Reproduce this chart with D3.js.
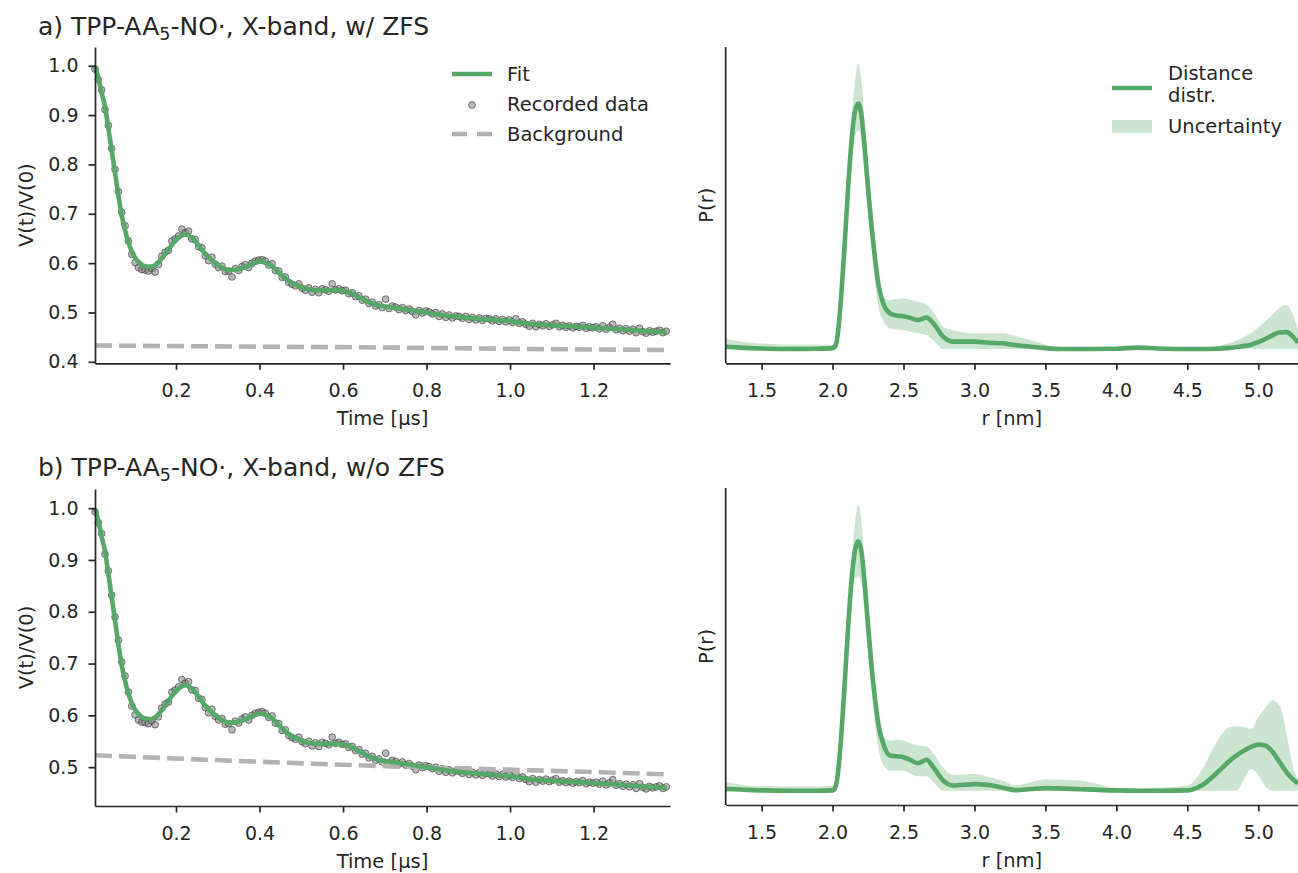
<!DOCTYPE html>
<html>
<head>
<meta charset="utf-8">
<script src="https://cdn.jsdelivr.net/npm/d3@7"></script>
<style>
  body { margin: 0; background: #fff; }
  svg { display: block; font-family: "DejaVu Sans", sans-serif; }
  .axis path, .axis line { stroke: #262626; stroke-width: 1.7; }
  .axis text { fill: #262626; font-size: 19px; font-family: "DejaVu Sans", sans-serif; }
</style>
</head>
<body>
<svg id="chart" width="1298" height="873"></svg>
<script>
// --- time-domain data (shared by both panels) ---
const recStart = 0.006, recStep = 0.008;

const recorded = [
  0.993, 0.972, 0.951, 0.911, 0.879, 0.832, 0.790, 0.745, 0.703, 0.676,
  0.645, 0.618, 0.601, 0.591, 0.587, 0.586, 0.584, 0.589, 0.582, 0.597,
  0.614, 0.622, 0.626, 0.645, 0.649, 0.655, 0.669, 0.662, 0.665, 0.649,
  0.648, 0.633, 0.631, 0.615, 0.605, 0.612, 0.598, 0.591, 0.594, 0.583,
  0.584, 0.572, 0.589, 0.585, 0.593, 0.597, 0.591, 0.600, 0.604, 0.606,
  0.607, 0.604, 0.596, 0.599, 0.585, 0.584, 0.571, 0.572, 0.561, 0.557,
  0.554, 0.558, 0.549, 0.545, 0.550, 0.541, 0.547, 0.540, 0.548, 0.546,
  0.543, 0.558, 0.546, 0.548, 0.544, 0.545, 0.538, 0.540, 0.532, 0.534,
  0.525, 0.527, 0.518, 0.521, 0.513, 0.516, 0.510, 0.527, 0.508, 0.513,
  0.511, 0.506, 0.510, 0.504, 0.507, 0.502, 0.495, 0.504, 0.499, 0.503,
  0.501, 0.497, 0.500, 0.492, 0.497, 0.490, 0.495, 0.489, 0.493, 0.492,
  0.488, 0.492, 0.486, 0.490, 0.485, 0.489, 0.484, 0.488, 0.487, 0.483,
  0.487, 0.482, 0.486, 0.481, 0.485, 0.480, 0.487, 0.478, 0.481, 0.476,
  0.472, 0.478, 0.471, 0.476, 0.473, 0.477, 0.472, 0.475, 0.478, 0.471,
  0.474, 0.470, 0.473, 0.469, 0.472, 0.470, 0.474, 0.468, 0.471, 0.469,
  0.471, 0.467, 0.473, 0.466, 0.470, 0.476, 0.465, 0.468, 0.463, 0.467,
  0.462, 0.466, 0.459, 0.468, 0.461, 0.458, 0.463, 0.460, 0.462, 0.464,
  0.459, 0.462
];

const fitValues = [
  0.998, 0.975, 0.945, 0.917, 0.873, 0.828, 0.783, 0.737, 0.697, 0.667,
  0.642, 0.624, 0.611, 0.603, 0.597, 0.594, 0.593, 0.593, 0.596, 0.602,
  0.610, 0.619, 0.628, 0.637, 0.645, 0.652, 0.656, 0.658, 0.656, 0.652,
  0.644, 0.636, 0.627, 0.619, 0.612, 0.606, 0.600, 0.595, 0.591, 0.588,
  0.586, 0.586, 0.586, 0.588, 0.590, 0.592, 0.595, 0.598, 0.601, 0.603,
  0.603, 0.601, 0.598, 0.594, 0.588, 0.581, 0.575, 0.569, 0.564, 0.560,
  0.557, 0.554, 0.551, 0.549, 0.547, 0.546, 0.545, 0.545, 0.545, 0.545,
  0.545, 0.545, 0.545, 0.545, 0.544, 0.543, 0.541, 0.538, 0.535, 0.531,
  0.528, 0.524, 0.521, 0.518, 0.516, 0.514, 0.513, 0.512, 0.511, 0.510,
  0.509, 0.508, 0.507, 0.506, 0.505, 0.504, 0.503, 0.502, 0.501, 0.500,
  0.499, 0.498, 0.497, 0.496, 0.495, 0.494, 0.493, 0.492, 0.492, 0.491,
  0.490, 0.490, 0.489, 0.488, 0.488, 0.487, 0.487, 0.486, 0.486, 0.485,
  0.485, 0.484, 0.484, 0.483, 0.483, 0.482, 0.481, 0.480, 0.479, 0.478,
  0.477, 0.476, 0.476, 0.475, 0.475, 0.474, 0.474, 0.474, 0.473, 0.473,
  0.473, 0.472, 0.472, 0.472, 0.471, 0.471, 0.471, 0.470, 0.470, 0.470,
  0.469, 0.469, 0.468, 0.468, 0.467, 0.467, 0.467, 0.466, 0.466, 0.465,
  0.465, 0.464, 0.464, 0.463, 0.463, 0.462, 0.462, 0.462, 0.461, 0.461,
  0.461, 0.460
];

const bgTimes = [0.006, 0.35, 0.7, 1.05, 1.383];
const bgA = [0.433, 0.431, 0.429, 0.426, 0.424];
const bgB = [0.523, 0.512, 0.502, 0.494, 0.486];

const timeTicks = [0.2, 0.4, 0.6, 0.8, 1.0, 1.2];
const vTicksA = [0.4, 0.5, 0.6, 0.7, 0.8, 0.9, 1.0];
const vTicksB = [0.5, 0.6, 0.7, 0.8, 0.9, 1.0];

// --- distance distributions ---
const rGrid = [1.25, 1.35, 1.5, 1.7, 1.9, 2.0, 2.02, 2.04, 2.064, 2.087, 2.11, 2.134, 2.157, 2.181,
  2.205, 2.228, 2.251, 2.275, 2.298, 2.322, 2.357, 2.404, 2.45, 2.5, 2.55, 2.6, 2.663, 2.71, 2.78,
  2.85, 3.0, 3.1, 3.2, 3.3, 3.4, 3.5, 3.6, 3.75, 4.0, 4.15, 4.3, 4.5, 4.6, 4.7, 4.8, 4.85, 4.9,
  4.95, 5.0, 5.05, 5.1, 5.15, 5.2, 5.24, 5.28];

const meanA = [0.008, 0.005, 0.002, 0.0, 0.001, 0.003, 0.01, 0.066, 0.206, 0.38, 0.567, 0.73, 0.83, 0.859,
  0.812, 0.696, 0.556, 0.428, 0.323, 0.23, 0.16, 0.125, 0.117, 0.115, 0.109, 0.101, 0.11, 0.09, 0.043,
  0.026, 0.026, 0.022, 0.02, 0.013, 0.008, 0.003, 0.0, 0.0, 0.001, 0.005, 0.002, 0.0, 0.0, 0.001, 0.004,
  0.007, 0.011, 0.015, 0.024, 0.035, 0.048, 0.058, 0.059, 0.046, 0.022];
const upperA = [0.037, 0.026, 0.019, 0.015, 0.015, 0.015, 0.03, 0.078, 0.23, 0.4, 0.62, 0.8, 0.93, 0.999,
  0.93, 0.78, 0.64, 0.5, 0.38, 0.27, 0.18, 0.171, 0.175, 0.177, 0.172, 0.165, 0.156, 0.13, 0.078,
  0.066, 0.055, 0.055, 0.055, 0.045, 0.031, 0.015, 0.004, 0.003, 0.004, 0.007, 0.004, 0.003, 0.005, 0.01, 0.022,
  0.03, 0.042, 0.056, 0.075, 0.097, 0.12, 0.145, 0.154, 0.125, 0.066];
const lowerA = [0, 0, 0, 0, 0, 0, 0, 0.04, 0.15, 0.3, 0.48, 0.65, 0.74, 0.765,
  0.72, 0.6, 0.47, 0.35, 0.24, 0.15, 0.1, 0.072, 0.068, 0.066, 0.06, 0.055, 0.049, 0.031, 0,
  0, 0, 0, 0, 0, 0, 0, 0, 0, 0, 0, 0, 0, 0, 0, 0,
  0, 0, 0, 0, 0, 0, 0, 0, 0, 0];

const meanB = [0.006, 0.004, 0.001, 0.0, 0.0, 0.001, 0.012, 0.07, 0.21, 0.386, 0.573, 0.737, 0.836, 0.871,
  0.83, 0.713, 0.573, 0.433, 0.327, 0.234, 0.164, 0.123, 0.12, 0.117, 0.107, 0.096, 0.108, 0.082, 0.035,
  0.018, 0.023, 0.02, 0.01, 0.002, 0.006, 0.009, 0.008, 0.005, 0.001, 0.0, 0.0, 0.001, 0.018, 0.058, 0.105,
  0.124, 0.14, 0.153, 0.161, 0.158, 0.136, 0.1, 0.064, 0.042, 0.025];
const upperB = [0.03, 0.022, 0.016, 0.015, 0.015, 0.016, 0.03, 0.08, 0.23, 0.4, 0.62, 0.8, 0.93, 1.0,
  0.93, 0.78, 0.64, 0.5, 0.38, 0.27, 0.19, 0.175, 0.178, 0.175, 0.166, 0.158, 0.155, 0.13, 0.08,
  0.055, 0.058, 0.048, 0.035, 0.018, 0.03, 0.04, 0.038, 0.035, 0.01, 0.008, 0.01, 0.018, 0.07, 0.164, 0.222,
  0.225, 0.222, 0.216, 0.257, 0.29, 0.316, 0.298, 0.199, 0.094, 0.04];
const lowerB = [0, 0, 0, 0, 0, 0, 0, 0.045, 0.15, 0.3, 0.48, 0.65, 0.74, 0.748,
  0.72, 0.6, 0.47, 0.35, 0.24, 0.15, 0.09, 0.07, 0.07, 0.07, 0.06, 0.05, 0.05, 0.03, 0,
  0, 0, 0, 0, 0, 0, 0, 0, 0, 0, 0, 0, 0, 0, 0, 0,
  0, 0.04, 0.076, 0.055, 0.015, 0, 0, 0, 0, 0];

const rTicks = [1.5, 2.0, 2.5, 3.0, 3.5, 4.0, 4.5, 5.0];

// --- styling ---
const GREEN = "#55a868";
const INK = "#262626";
const LW = 4.6;
const svg = d3.select("#chart");

function addTitle(x, y, prefix, suffix) {
  const t = svg.append("text").attr("x", x).attr("y", y)
    .attr("fill", INK).style("font-size", "25px");
  t.append("tspan").text(prefix + "TPP-AA");
  t.append("tspan").attr("dy", 5).style("font-size", "17.5px").text("5");
  t.append("tspan").attr("dy", -5).text("-NO·, X-band, " + suffix);
}

function drawTime(box, bgVals, yDomain, yTicks, withLegend) {
  const x = d3.scaleLinear().domain([0.006, 1.383]).range([box.x0, box.x1]);
  const y = d3.scaleLinear().domain(yDomain).range([box.y1, box.y0]);

  const recData = recorded.map((v, i) => [recStart + i * recStep, v]);
  const fitData = fitValues.map((v, i) => [recStart + i * recStep, v]);
  const bgData = bgTimes.map((t, i) => [t, bgVals[i]]);

  svg.append("g").selectAll("circle").data(recData).join("circle")
    .attr("cx", d => x(d[0])).attr("cy", d => y(d[1])).attr("r", 3.4)
    .attr("fill", "#808080").attr("fill-opacity", 0.55)
    .attr("stroke", "#262626").attr("stroke-opacity", 0.55).attr("stroke-width", 1);

  const line = d3.line().x(d => x(d[0])).y(d => y(d[1])).curve(d3.curveMonotoneX);

  svg.append("path").datum(bgData).attr("d", line)
    .attr("fill", "none").attr("stroke", "#b3b3b3").attr("stroke-width", LW)
    .attr("stroke-dasharray", "17,7");

  svg.append("path").datum(fitData).attr("d", line)
    .attr("fill", "none").attr("stroke", GREEN).attr("stroke-width", LW)
    .attr("stroke-linejoin", "round");

  svg.append("g").attr("class", "axis")
    .attr("transform", `translate(0,${box.y1})`)
    .call(d3.axisBottom(x).tickValues(timeTicks).tickFormat(d3.format(".1f"))
      .tickSize(6.5).tickSizeOuter(0).tickPadding(14));

  svg.append("g").attr("class", "axis")
    .attr("transform", `translate(${box.x0},0)`)
    .call(d3.axisLeft(y).tickValues(yTicks).tickFormat(d3.format(".1f"))
      .tickSize(6.5).tickSizeOuter(0).tickPadding(10));

  svg.append("text").attr("x", (box.x0 + box.x1) / 2).attr("y", box.y1 + 62)
    .attr("text-anchor", "middle").attr("fill", INK).style("font-size", "19.5px")
    .text("Time [μs]");

  svg.append("text")
    .attr("transform", `translate(${box.x0 - 62},${(box.y0 + box.y1) / 2}) rotate(-90)`)
    .attr("text-anchor", "middle").attr("fill", INK).style("font-size", "19.5px")
    .text("V(t)/V(0)");

  if (withLegend) {
    const lg = svg.append("g").attr("transform", `translate(452,${box.y0 + 27})`);
    lg.append("line").attr("x1", 0).attr("x2", 40).attr("y1", 0).attr("y2", 0)
      .attr("stroke", GREEN).attr("stroke-width", LW);
    lg.append("circle").attr("cx", 20).attr("cy", 31).attr("r", 3.4)
      .attr("fill", "#808080").attr("fill-opacity", 0.55)
      .attr("stroke", "#262626").attr("stroke-opacity", 0.55);
    lg.append("line").attr("x1", 0).attr("x2", 40).attr("y1", 60).attr("y2", 60)
      .attr("stroke", "#b3b3b3").attr("stroke-width", LW).attr("stroke-dasharray", "15,10");
    ["Fit", "Recorded data", "Background"].forEach((s, i) => {
      lg.append("text").attr("x", 55).attr("y", i * 30 + 7)
        .attr("fill", INK).style("font-size", "19.5px").text(s);
    });
  }
}

function drawDist(box, mean, lower, upper, withLegend) {
  const x = d3.scaleLinear().domain([1.247, 5.28]).range([box.x0, box.x1]);
  const y = d3.scaleLinear().domain([-0.05, 1.057]).range([box.y1, box.y0]);
  const id = "clip" + Math.round(box.y0);

  svg.append("clipPath").attr("id", id).append("rect")
    .attr("x", box.x0).attr("y", box.y0).attr("width", box.x1 - box.x0).attr("height", box.y1 - box.y0);

  const g = svg.append("g").attr("clip-path", `url(#${id})`);
  const rows = rGrid.map((r, i) => ({ r, m: mean[i], lo: lower[i], hi: upper[i] }));

  g.append("path").datum(rows)
    .attr("d", d3.area().x(d => x(d.r)).y0(d => y(d.lo)).y1(d => y(d.hi)).curve(d3.curveMonotoneX))
    .attr("fill", GREEN).attr("fill-opacity", 0.3);

  g.append("path").datum(rows)
    .attr("d", d3.line().x(d => x(d.r)).y(d => y(d.m)).curve(d3.curveMonotoneX))
    .attr("fill", "none").attr("stroke", GREEN).attr("stroke-width", LW)
    .attr("stroke-linejoin", "round");

  svg.append("g").attr("class", "axis")
    .attr("transform", `translate(0,${box.y1})`)
    .call(d3.axisBottom(x).tickValues(rTicks).tickFormat(d3.format(".1f"))
      .tickSize(6.5).tickSizeOuter(0).tickPadding(14));

  svg.append("line").attr("x1", box.x0).attr("x2", box.x0).attr("y1", box.y0).attr("y2", box.y1)
    .attr("stroke", INK).attr("stroke-width", 1.7);

  svg.append("text").attr("x", (box.x0 + box.x1) / 2).attr("y", box.y1 + 62)
    .attr("text-anchor", "middle").attr("fill", INK).style("font-size", "19.5px")
    .text("r [nm]");

  svg.append("text")
    .attr("transform", `translate(${box.x0 - 13},${(box.y0 + box.y1) / 2}) rotate(-90)`)
    .attr("text-anchor", "middle").attr("fill", INK).style("font-size", "19.5px")
    .text("P(r)");

  if (withLegend) {
    const lg = svg.append("g").attr("transform", `translate(1112,${box.y0})`);
    lg.append("line").attr("x1", 0).attr("x2", 40).attr("y1", 41).attr("y2", 41)
      .attr("stroke", GREEN).attr("stroke-width", LW);
    lg.append("rect").attr("x", 0).attr("y", 73).attr("width", 40).attr("height", 13)
      .attr("fill", GREEN).attr("fill-opacity", 0.3);
    [["Distance", 33], ["distr.", 55], ["Uncertainty", 86]].forEach(([s, yy]) => {
      lg.append("text").attr("x", 56).attr("y", yy)
        .attr("fill", INK).style("font-size", "19.5px").text(s);
    });
  }
}

addTitle(38, 35, "a) ", "w/ ZFS");
addTitle(38, 476, "b) ", "w/o ZFS");

drawTime({ x0: 95, x1: 670, y0: 47, y1: 363.3 }, bgA, [0.397, 1.038], vTicksA, true);
drawTime({ x0: 95, x1: 670, y0: 489, y1: 806 }, bgB, [0.425, 1.037], vTicksB, false);
drawDist({ x0: 725.7, x1: 1298, y0: 47, y1: 363.3 }, meanA, lowerA, upperA, true);
drawDist({ x0: 725.7, x1: 1298, y0: 488, y1: 805 }, meanB, lowerB, upperB, false);
</script>
</body>
</html>
